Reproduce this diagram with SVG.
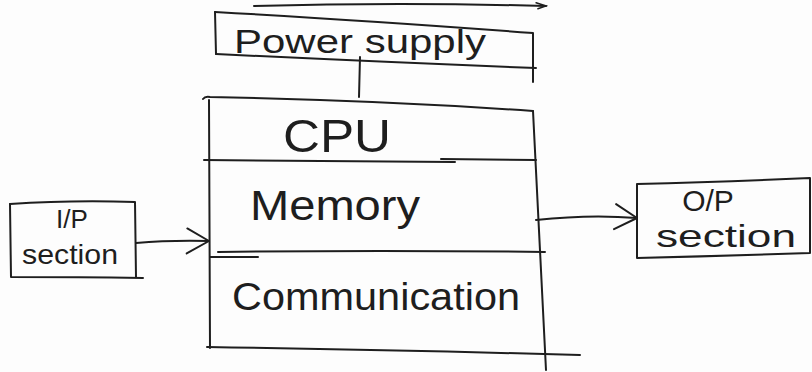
<svg xmlns="http://www.w3.org/2000/svg" width="812" height="372" viewBox="0 0 812 372">
  <style>
    .ink { fill: none; stroke: #1e1e1e; stroke-width: 2; stroke-linecap: round; stroke-linejoin: round; }
    .lbl { font-family: "Liberation Sans", "DejaVu Sans", sans-serif; fill: #1e1e1e; text-anchor: middle; }
  </style>
  <defs>
    <marker id="chev" markerWidth="30" markerHeight="30" refX="28" refY="15" orient="auto" markerUnits="userSpaceOnUse">
      <path d="M6 3 L28 15 L6 28" fill="none" stroke="#1e1e1e" stroke-width="2" stroke-linecap="round" stroke-linejoin="round"/>
    </marker>
    <marker id="hook" markerWidth="14" markerHeight="10" refX="12" refY="5" orient="auto" markerUnits="userSpaceOnUse">
      <path d="M2 2 L12 5 L4 8" fill="none" stroke="#1e1e1e" stroke-width="1.5" stroke-linecap="round"/>
    </marker>
  </defs>
  <rect width="812" height="372" fill="#fdfdfd"/>

  <!-- line above the power supply -->
  <g id="top-rule">
    <path class="ink" d="M254 6 Q400 2 546 6" marker-end="url(#hook)"/>
  </g>

  <g id="power-supply">
    <path class="ink" d="M215 12 Q360 20 533 33 L533 82"/>
    <path class="ink" d="M215 12 L216 54"/>
    <path class="ink" d="M216 54 Q380 62 536 68"/>
    <text class="lbl" x="360" y="53" font-size="34" textLength="252" lengthAdjust="spacingAndGlyphs">Power supply</text>
  </g>

  <g id="main-unit">
    <!-- outer frame -->
    <path class="ink" d="M203 99 Q205 96 210 97 Q380 100 533 111"/>
    <path class="ink" d="M209 100 L210 348"/>
    <path class="ink" d="M533 111 L546 370"/>
    <path class="ink" d="M207 347 Q400 350 580 355"/>
    <!-- section dividers -->
    <path class="ink" d="M204 160 L455 162"/>
    <path class="ink" d="M441 159 L536 160"/>
    <path class="ink" d="M218 252 Q380 250 545 252"/>
    <path class="ink" d="M210 257 L258 257"/>
    <text id="cpu" class="lbl" x="337" y="152" font-size="46" textLength="108" lengthAdjust="spacingAndGlyphs">CPU</text>
    <text id="memory" class="lbl" x="335" y="220" font-size="42" textLength="170" lengthAdjust="spacingAndGlyphs">Memory</text>
    <text id="communication" class="lbl" x="376" y="310" font-size="38" textLength="288" lengthAdjust="spacingAndGlyphs">Communication</text>
  </g>

  <g id="input-section">
    <path class="ink" d="M10 204 Q70 200 135 202 L136 277"/>
    <path class="ink" d="M10 204 L11 277 Q80 277 143 278"/>
    <text class="lbl" x="72" y="228" font-size="26">I/P</text>
    <text class="lbl" x="70" y="264" font-size="28" textLength="96" lengthAdjust="spacingAndGlyphs">section</text>
  </g>

  <g id="output-section">
    <path class="ink" d="M637 184 Q720 182 810 178 L810 253 Q720 256 637 258 Z"/>
    <text class="lbl" x="708" y="211" font-size="30">O/P</text>
    <text class="lbl" x="726" y="247" font-size="32" textLength="140" lengthAdjust="spacingAndGlyphs">section</text>
  </g>

  <g id="connectors">
    <path class="ink" d="M360 57 L359 97"/>
    <path class="ink" d="M136 243 Q170 240 209 241" marker-end="url(#chev)"/>
    <path class="ink" d="M536 220 Q590 214 637 218" marker-end="url(#chev)"/>
  </g>
</svg>
